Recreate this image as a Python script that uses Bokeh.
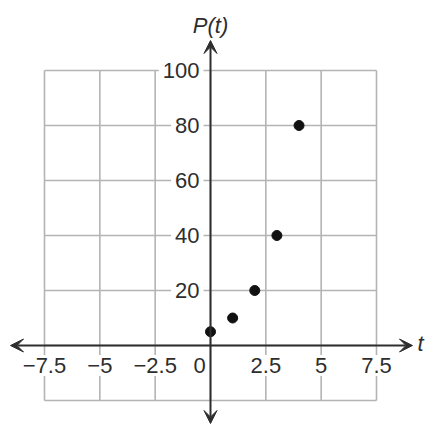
from bokeh.plotting import figure
from bokeh.models import Range1d, Arrow, VeeHead, Label
from bokeh.embed import file_html
from bokeh.resources import INLINE

# data
t_vals = [0, 1, 2, 3, 4]
p_vals = [5, 10, 20, 40, 80]
x_ticks = [-7.5, -5, -2.5, 0, 2.5, 5, 7.5]
x_tick_labels = ["\u22127.5", "\u22125", "\u22122.5", "0", "2.5", "5", "7.5"]
y_grid = [-20, 0, 20, 40, 60, 80, 100]
y_ticks = [20, 40, 60, 80, 100]
y_tick_labels = ["20", "40", "60", "80", "100"]

W, H = 425, 426
kx = 332 / 15.0
ky = 2.75
x0 = -210 / kx
x1 = (W - 210) / kx
y1 = 345 / ky
y0 = -(H - 345) / ky
p = figure(width=W, height=H, output_backend="svg", toolbar_location=None,
           x_range=Range1d(x0, x1), y_range=Range1d(y0, y1),
           min_border=0)
p.axis.visible = False
p.grid.visible = False
p.outline_line_color = None
p.background_fill_color = "white"
p.border_fill_color = "white"

grid_col = "#b4b4b4"
xmin, xmax = x_ticks[0], x_ticks[-1]
ymin, ymax = y_grid[0], y_grid[-1]
p.segment(x0=x_ticks, y0=[ymin] * len(x_ticks), x1=x_ticks, y1=[ymax] * len(x_ticks),
          line_color=grid_col, line_width=1.6)
p.segment(x0=[xmin] * len(y_grid), y0=y_grid, x1=[xmax] * len(y_grid), y1=y_grid,
          line_color=grid_col, line_width=1.6)

font = "Liberation Sans"
fs = "22px"
tcol = "#2e2e2e"
for v, s in zip(x_ticks, x_tick_labels):
    off = -11 if v == 0 else 0
    p.add_layout(Label(x=v, y=0, text=s, x_offset=off, y_offset=-20,
                       text_align="center", text_baseline="middle",
                       text_font=font, text_font_size=fs, text_color=tcol,
                       background_fill_color="white", padding=3))
for v, s in zip(y_ticks, y_tick_labels):
    p.add_layout(Label(x=0, y=v, text=s, x_offset=-7, y_offset=0,
                       text_align="right", text_baseline="middle",
                       text_font=font, text_font_size=fs, text_color=tcol,
                       background_fill_color="white", padding=4))

axis_col = "#2e2e2e"
p.add_layout(Arrow(x_start=x0 + 10 / kx, y_start=0, x_end=x0 + 412 / kx, y_end=0,
                   line_color=axis_col, line_width=2,
                   start=VeeHead(size=13, line_color=axis_col, fill_color=axis_col, line_width=1),
                   end=VeeHead(size=13, line_color=axis_col, fill_color=axis_col, line_width=1)))
p.add_layout(Arrow(x_start=0, y_start=y1 - 423 / ky, x_end=0, y_end=y1 - 40 / ky,
                   line_color=axis_col, line_width=2,
                   start=VeeHead(size=13, line_color=axis_col, fill_color=axis_col, line_width=1),
                   end=VeeHead(size=13, line_color=axis_col, fill_color=axis_col, line_width=1)))

p.scatter(t_vals, p_vals, size=10, color="#111111")

p.add_layout(Label(x=0, y=y1, text="P(t)", y_offset=-25, text_align="center",
                   text_baseline="middle", text_font=font, text_font_size=fs,
                   text_font_style="italic", text_color=tcol))
p.add_layout(Label(x=x0 + 420 / kx, y=0, text="t", y_offset=2, text_align="center",
                   text_baseline="middle", text_font=font, text_font_size=fs,
                   text_font_style="italic", text_color=tcol))

open("out.html", "w").write(file_html(p, INLINE))
